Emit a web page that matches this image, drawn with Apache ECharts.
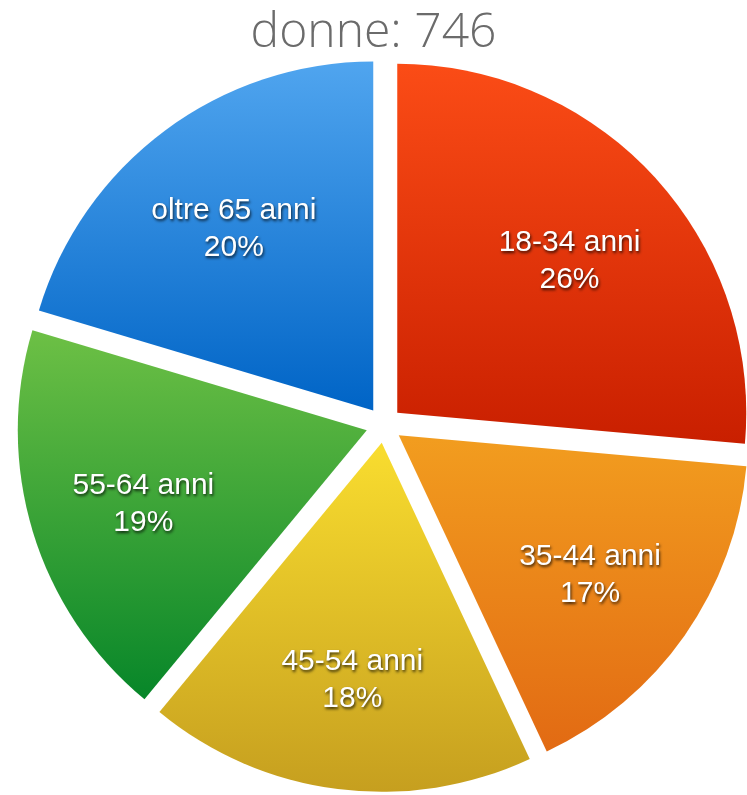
<!DOCTYPE html>
<html>
<head>
<meta charset="utf-8">
<script src="https://cdn.jsdelivr.net/npm/echarts@6/dist/echarts.min.js"></script>
<style>
html,body{margin:0;padding:0;background:#fff;}
#chart{width:747px;height:795px;}
</style>
</head>
<body>
<div id="chart"></div>
<script>
// Data
var titleText = 'donne: 746';
var categories = ['18-34 anni', '35-44 anni', '45-54 anni', '55-64 anni', 'oltre 65 anni'];
var values = [197, 124, 134, 139, 152];          // estimated counts (total 746)
var percentLabels = [26, 17, 18, 19, 20];         // as printed on the slices

// Styles
var topColors = ['#fb4c16', '#f29d1f', '#f9dd2f', '#6dc045', '#50a5ef'];
var bottomColors = ['#c91f00', '#e26a13', '#c69f1f', '#078629', '#0064c6'];

var chart = echarts.init(document.getElementById('chart'), null, {renderer: 'canvas'});

var pieData = categories.map(function (c, i) {
  return {
    name: c,
    value: values[i],
    selected: true,
    itemStyle: {
      color: new echarts.graphic.LinearGradient(0, 0, 0, 1, [
        {offset: 0, color: topColors[i]},
        {offset: 1, color: bottomColors[i]}
      ])
    }
  };
});
var labelData = categories.map(function (c, i) {
  return {name: c, value: values[i], selected: true};
});

var center = [384, 425];
var labelCenter = [384, 431];
var R = 349;

chart.setOption({
  animation: false,
  title: {
    text: titleText,
    left: 'center',
    top: 4,
    textStyle: {
      fontFamily: '"Open Sans", Lato, sans-serif',
      fontWeight: 300,
      fontSize: 48,
      color: '#6b6b6b'
    }
  },
  series: [
    {
      type: 'pie',
      center: center,
      radius: [0, R],
      startAngle: 90,
      clockwise: true,
      selectedMode: 'multiple',
      selectedOffset: 18,
      silent: true,
      label: {show: false},
      labelLine: {show: false},
      emphasis: {disabled: true},
      data: pieData
    },
    {
      type: 'pie',
      center: labelCenter,
      radius: [112, R],
      startAngle: 90,
      clockwise: true,
      selectedMode: 'multiple',
      selectedOffset: 18,
      silent: true,
      itemStyle: {color: 'rgba(0,0,0,0)'},
      emphasis: {disabled: true},
      labelLine: {show: false},
      label: {
        show: true,
        position: 'inside',
        formatter: function (p) {
          return p.name + '\n' + percentLabels[p.dataIndex] + '%';
        },
        color: '#ffffff',
        fontFamily: '"Liberation Sans", Arial, sans-serif',
        fontSize: 30,
        lineHeight: 37,
        align: 'center',
        textShadowColor: 'rgba(0,0,0,0.75)',
        textShadowBlur: 3,
        textShadowOffsetX: 1,
        textShadowOffsetY: 2
      },
      data: labelData
    }
  ]
});
</script>
</body>
</html>
